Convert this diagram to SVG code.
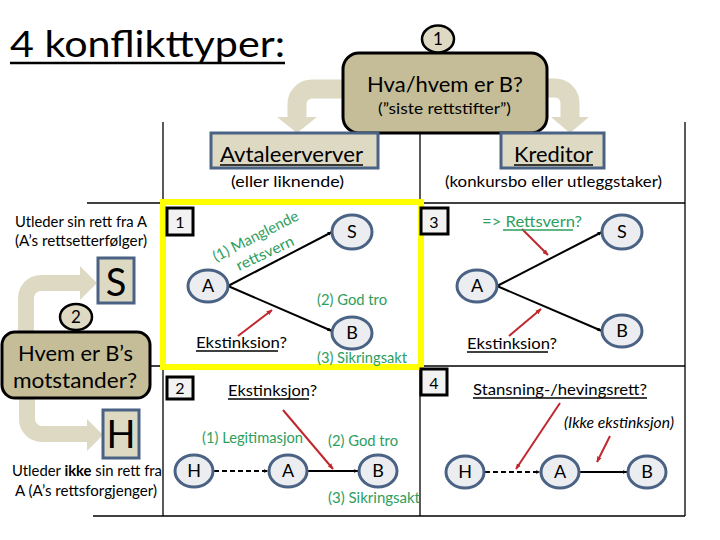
<svg xmlns="http://www.w3.org/2000/svg" width="720" height="540" viewBox="0 0 720 540">
<defs>
<marker id="ah" viewBox="0 0 10 10" refX="9" refY="5" markerWidth="5" markerHeight="5" orient="auto" markerUnits="userSpaceOnUse">
<path d="M0,1 L10,5 L0,9 z" fill="#000"/>
</marker>
<marker id="rh" viewBox="0 0 10 10" refX="9" refY="5" markerWidth="6" markerHeight="6" orient="auto" markerUnits="userSpaceOnUse">
<path d="M0,1 L10,5 L0,9 z" fill="#C0272D"/>
</marker>
<style>
text{font-family:Lato,"Open Sans","Liberation Sans",sans-serif;fill:#000}
.grid{stroke:#000;stroke-width:1.3;fill:none}
.band{stroke:#DDD9C3;fill:none}
.bandhead{fill:#DDD9C3}
.tan{fill:#C4BD97;stroke:#000;stroke-width:3}
.lbox{fill:#DDD9C3;stroke:#4A6283;stroke-width:3}
.nbox{fill:#F2F2F2;stroke:#000;stroke-width:3}
.node{fill:#ECEDF1;stroke:#4A6283;stroke-width:3}
.nt{font-size:18px;text-anchor:middle}
.g{fill:#2E9E5E;font-size:15px}
.edge{stroke:#000;stroke-width:2;fill:none;marker-end:url(#ah)}
.dash{stroke-dasharray:5 3}
.red{stroke:#C0272D;stroke-width:2;fill:none;marker-end:url(#rh)}
.ul{stroke:#000;stroke-width:1.6}
</style>
</defs>
<rect width="720" height="540" fill="#fff"/>

<g id="title">
<text x="10" y="57" font-size="36" textLength="275" lengthAdjust="spacingAndGlyphs">4 konflikttyper:</text>
<line x1="10" y1="63" x2="285" y2="63" stroke="#000" stroke-width="2.5"/>
</g>

<g id="grid">
<line class="grid" x1="163" y1="122" x2="163" y2="516"/>
<line class="grid" x1="420" y1="122" x2="420" y2="516"/>
<line class="grid" x1="685" y1="122" x2="685" y2="516"/>
<line class="grid" x1="87" y1="203" x2="685" y2="203"/>
<line class="grid" x1="150" y1="366" x2="685" y2="366"/>
<line class="grid" x1="93" y1="516" x2="685" y2="516"/>
</g>

<g id="connectors">
<path class="band" stroke-width="19" d="M345,89 H312 A15,15 0 0 0 297,104 V118"/>
<polygon class="bandhead" points="277,117 317,117 297,133"/>
<path class="band" stroke-width="19" d="M545,88 H555 A15,15 0 0 1 570,103 V118"/>
<polygon class="bandhead" points="551,117 589,117 570,133"/>
<path class="band" stroke-width="16" d="M26,334 V298 A15,15 0 0 1 41,283 H82"/>
<polygon class="bandhead" points="80,266 80,300 97,283"/>
<path class="band" stroke-width="16" d="M27,396 V418 A15,15 0 0 0 42,434 H88"/>
<polygon class="bandhead" points="87,419 87,451 103,435"/>

<line class="edge" x1="228" y1="286" x2="332" y2="232"/>
<line class="edge" x1="228" y1="286" x2="332" y2="331"/>
<line class="edge" x1="497" y1="286" x2="602" y2="232"/>
<line class="edge" x1="497" y1="286" x2="602" y2="331"/>
<line class="edge dash" x1="214" y1="471" x2="268" y2="471"/>
<line class="edge" x1="308" y1="471" x2="358" y2="471"/>
<line class="edge dash" x1="485" y1="472" x2="540" y2="472"/>
<line class="edge" x1="580" y1="472" x2="627" y2="472"/>

<line class="red" x1="238" y1="336" x2="272" y2="310"/>
<line class="red" x1="522" y1="229" x2="548" y2="255"/>
<line class="red" x1="509" y1="336" x2="541" y2="309"/>
<line class="red" x1="283" y1="410" x2="333" y2="469"/>
<line class="red" x1="560" y1="403" x2="516" y2="469"/>
<line class="red" x1="610" y1="436" x2="597" y2="462"/>
</g>

<g id="q1frame">
<rect x="163" y="202" width="258" height="165" fill="none" stroke="#FFFF00" stroke-width="6"/>
</g>

<g id="top-question">
<rect class="tan" x="343" y="53" width="204" height="80" rx="16"/>
<text x="445" y="92" font-size="22" text-anchor="middle">Hva/hvem er B?</text>
<text x="378" y="114" font-size="15" textLength="133" lengthAdjust="spacingAndGlyphs">(”siste rettstifter”)</text>
</g>
<g id="badge1">
<ellipse cx="438" cy="39" rx="16" ry="13.5" fill="#DDD9C3" stroke="#000" stroke-width="2.5"/>
<text x="438" y="45" font-size="17" text-anchor="middle">1</text>
</g>

<g id="avtaleerverver">
<rect class="lbox" x="211" y="133" width="167" height="35"/>
<text x="220" y="162" font-size="22" textLength="143" lengthAdjust="spacingAndGlyphs">Avtaleerverver</text>
<line class="ul" x1="220" y1="165" x2="363" y2="165" stroke-width="2"/>
<text x="231" y="187" font-size="16" textLength="113" lengthAdjust="spacingAndGlyphs">(eller liknende)</text>
</g>
<g id="kreditor">
<rect class="lbox" x="501" y="133" width="103" height="35"/>
<text x="514" y="162" font-size="22" textLength="79" lengthAdjust="spacingAndGlyphs">Kreditor</text>
<line class="ul" x1="514" y1="165" x2="593" y2="165" stroke-width="2"/>
<text x="445" y="187" font-size="16" textLength="217" lengthAdjust="spacingAndGlyphs">(konkursbo eller utleggstaker)</text>
</g>

<g id="left-S">
<text x="15" y="227" font-size="15" textLength="132" lengthAdjust="spacingAndGlyphs">Utleder sin rett fra A</text>
<text x="15" y="246" font-size="15" textLength="132" lengthAdjust="spacingAndGlyphs">(A’s rettsetterfølger)</text>
<rect class="lbox" x="98" y="258" width="36" height="45"/>
<text x="116" y="296" font-size="38" text-anchor="middle">S</text>
</g>

<g id="badge2">
<ellipse cx="76" cy="317" rx="16" ry="13" fill="#DDD9C3" stroke="#000" stroke-width="2.5"/>
<text x="76" y="323" font-size="17" text-anchor="middle">2</text>
</g>
<g id="motstander">
<rect class="tan" x="2" y="332" width="148" height="66" rx="13"/>
<text x="18" y="361" font-size="22" textLength="115" lengthAdjust="spacingAndGlyphs">Hvem er B’s</text>
<text x="13" y="388" font-size="22" textLength="124" lengthAdjust="spacingAndGlyphs">motstander?</text>
</g>

<g id="left-H">
<rect class="lbox" x="103" y="410" width="36" height="48"/>
<text x="121" y="448" font-size="38" text-anchor="middle">H</text>
<text x="12" y="476" font-size="15" textLength="150" lengthAdjust="spacingAndGlyphs">Utleder <tspan font-weight="bold">ikke</tspan> sin rett fra</text>
<text x="15" y="496" font-size="15" textLength="142" lengthAdjust="spacingAndGlyphs">A (A’s rettsforgjenger)</text>
</g>

<g id="q1">
<rect class="nbox" x="167" y="208" width="26" height="27"/>
<text x="180" y="228" font-size="16" text-anchor="middle">1</text>
<ellipse class="node" cx="208" cy="286" rx="20" ry="16"/>
<text class="nt" x="208" y="292">A</text>
<ellipse class="node" cx="352" cy="232" rx="20" ry="17"/>
<text class="nt" x="352" y="238">S</text>
<ellipse class="node" cx="352" cy="333" rx="20" ry="16"/>
<text class="nt" x="352" y="339">B</text>
<text class="g" x="216" y="262" transform="rotate(-27 216 262)" textLength="94" lengthAdjust="spacingAndGlyphs">(1) Manglende</text>
<text class="g" x="239" y="271" transform="rotate(-25 239 271)" textLength="62" lengthAdjust="spacingAndGlyphs">rettsvern</text>
<text class="g" x="317" y="305" textLength="70" lengthAdjust="spacingAndGlyphs">(2) God tro</text>
<text class="g" x="317" y="363" textLength="90" lengthAdjust="spacingAndGlyphs">(3) Sikringsakt</text>
<text x="196" y="348" font-size="16" textLength="91" lengthAdjust="spacingAndGlyphs">Ekstinksion?</text>
<line class="ul" x1="196" y1="351" x2="278" y2="351"/>
</g>

<g id="q3">
<rect class="nbox" x="421" y="208" width="27" height="26"/>
<text x="434" y="228" font-size="16" text-anchor="middle">3</text>
<text class="g" x="482" y="227" font-size="16" textLength="100" lengthAdjust="spacingAndGlyphs">=&gt; Rettsvern?</text>
<line x1="503" y1="230" x2="573" y2="230" stroke="#2E9E5E" stroke-width="1.6"/>
<ellipse class="node" cx="477" cy="286" rx="20" ry="16"/>
<text class="nt" x="477" y="292">A</text>
<ellipse class="node" cx="622" cy="232" rx="20" ry="17"/>
<text class="nt" x="622" y="238">S</text>
<ellipse class="node" cx="622" cy="331" rx="20" ry="16"/>
<text class="nt" x="622" y="337">B</text>
<text x="467" y="349" font-size="16" textLength="90" lengthAdjust="spacingAndGlyphs">Ekstinksion?</text>
<line class="ul" x1="467" y1="352" x2="548" y2="352"/>
</g>

<g id="q2">
<rect class="nbox" x="167" y="377" width="26" height="22"/>
<text x="180" y="394" font-size="16" text-anchor="middle">2</text>
<text x="228" y="396" font-size="16" textLength="89" lengthAdjust="spacingAndGlyphs">Ekstinksjon?</text>
<line class="ul" x1="228" y1="399" x2="309" y2="399"/>
<text class="g" x="202" y="443" textLength="101" lengthAdjust="spacingAndGlyphs">(1) Legitimasjon</text>
<text class="g" x="328" y="446" textLength="70" lengthAdjust="spacingAndGlyphs">(2) God tro</text>
<text class="g" x="328" y="503" textLength="92" lengthAdjust="spacingAndGlyphs">(3) Sikringsakt</text>
<ellipse class="node" cx="194" cy="471" rx="19" ry="16"/>
<text class="nt" x="194" y="477">H</text>
<ellipse class="node" cx="288" cy="471" rx="19" ry="16"/>
<text class="nt" x="288" y="477">A</text>
<ellipse class="node" cx="378" cy="471" rx="19" ry="16"/>
<text class="nt" x="378" y="477">B</text>
</g>

<g id="q4">
<rect class="nbox" x="421" y="369" width="26" height="26"/>
<text x="434" y="389" font-size="16" text-anchor="middle">4</text>
<text x="473" y="395" font-size="16" textLength="174" lengthAdjust="spacingAndGlyphs">Stansning-/hevingsrett?</text>
<line class="ul" x1="473" y1="398" x2="647" y2="398"/>
<text x="564" y="428" font-size="15" font-style="italic" textLength="110" lengthAdjust="spacingAndGlyphs">(Ikke ekstinksjon)</text>
<ellipse class="node" cx="465" cy="472" rx="19" ry="16"/>
<text class="nt" x="465" y="478">H</text>
<ellipse class="node" cx="560" cy="472" rx="19" ry="16"/>
<text class="nt" x="560" y="478">A</text>
<ellipse class="node" cx="647" cy="472" rx="19" ry="16"/>
<text class="nt" x="647" y="478">B</text>
</g>
</svg>
